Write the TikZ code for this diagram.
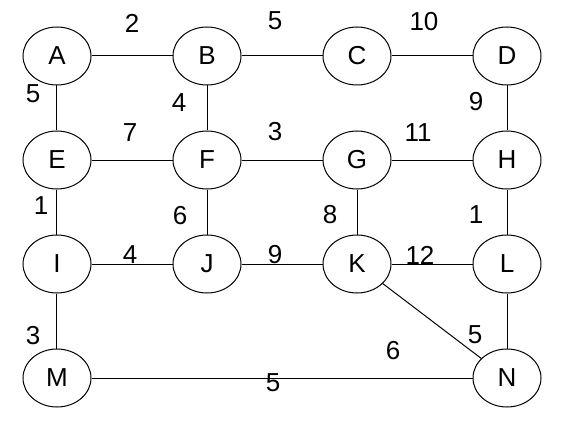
\documentclass[tikz,border=0pt]{standalone}
\usepackage{fontspec}
\setmainfont{Liberation Sans}
\usetikzlibrary{positioning, shapes.geometric}

\begin{document}
\begin{tikzpicture}[
  x=1pt, y=1pt,
  font=\fontsize{26}{30}\selectfont,
  city/.style={draw, ellipse, minimum width=68pt, minimum height=58pt,
    inner sep=0pt, line width=1pt},
  road/.style={line width=1pt},
  wt/.style={midway, inner sep=0pt},
  node distance=104pt and 150pt, on grid,
]
  \useasboundingbox (-57,56) rectangle (508,-372);

  \node[city] (A) at (0,0) {A};
  \node[city, right=of A] (B) {B};
  \node[city, right=of B] (C) {C};
  \node[city, right=of C] (D) {D};
  \node[city, below=of A] (E) {E};
  \node[city, below=of B] (F) {F};
  \node[city, below=of C] (G) {G};
  \node[city, below=of D] (H) {H};
  \node[city, below=of E] (I) {I};
  \node[city, below=of F] (J) {J};
  \node[city, below=of G] (K) {K};
  \node[city, below=of H] (L) {L};
  \node[city, below=114pt of I] (M) {M};
  \node[city, below=114pt of L] (N) {N};

  \draw[road] (A) -- node[wt, yshift=33pt] {2} (B);
  \draw[road] (B) -- node[wt, xshift=-7pt, yshift=35pt] {5} (C);
  \draw[road] (C) -- node[wt, xshift=-8pt, yshift=34pt] {10} (D);
  \draw[road] (A) -- node[wt, xshift=-24pt, yshift=14pt] {5} (E);
  \draw[road] (B) -- node[wt, xshift=-28pt, yshift=5pt] {4} (F);
  \draw[road] (D) -- node[wt, xshift=-31pt, yshift=6pt] {9} (H);
  \draw[road] (E) -- node[wt, xshift=-2pt, yshift=27pt] {7} (F);
  \draw[road] (F) -- node[wt, xshift=-7pt, yshift=28pt] {3} (G);
  \draw[road] (G) -- node[wt, xshift=-14pt, yshift=27pt] {11} (H);
  \draw[road] (E) -- node[wt, xshift=-16pt, yshift=6pt] {1} (I);
  \draw[road] (F) -- node[wt, xshift=-27pt, yshift=-4pt] {6} (J);
  \draw[road] (G) -- node[wt, xshift=-27pt, yshift=-3pt] {8} (K);
  \draw[road] (H) -- node[wt, xshift=-31pt, yshift=-3pt] {1} (L);
  \draw[road] (I) -- node[wt, xshift=-2pt, yshift=9pt] {4} (J);
  \draw[road] (J) -- node[wt, xshift=-7pt, yshift=9pt] {9} (K);
  \draw[road] (K) -- node[wt, xshift=-12pt, yshift=9pt] {12} (L);
  \draw[road] (I) -- node[wt, xshift=-24pt, yshift=-15pt] {3} (M);
  \draw[road] (L) -- node[wt, xshift=-32pt, yshift=-14pt] {5} (N);
  \draw[road] (K) -- node[wt, xshift=-39pt, yshift=-30pt] {6} (N);
  \draw[road] (M) -- node[wt, xshift=-9pt, yshift=-5pt] {5} (N);
\end{tikzpicture}
\end{document}
